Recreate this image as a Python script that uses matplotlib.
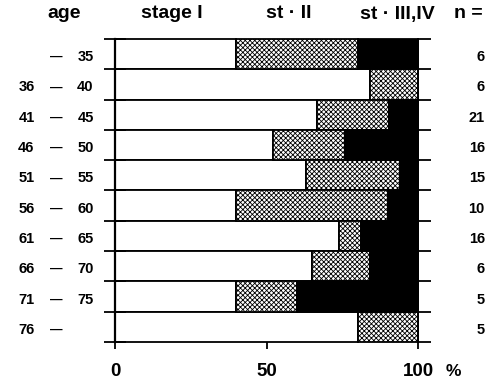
import matplotlib
matplotlib.use("Agg")
import matplotlib.pyplot as plt
import numpy as np

# Daten (Prozent je Altersgruppe)
age_lo = ["", "36", "41", "46", "51", "56", "61", "66", "71", "76"]
age_hi = ["35", "40", "45", "50", "55", "60", "65", "70", "75", ""]
stage1 = [40, 84, 66.7, 52, 63, 40, 74, 65, 40, 80]
stage2 = [40, 16, 23.8, 24, 31, 50, 7, 19, 20, 20]
stage34 = [20, 0, 9.5, 24, 6, 10, 19, 16, 40, 0]
n_cases = ["6", "6", "21", "16", "15", "10", "16", "6", "5", "5"]
headers = ["age", "stage I", "st · II", "st · III,IV", "n ="]

plt.rcParams["font.family"] = ["Liberation Sans", "DejaVu Sans"]
plt.rcParams["font.weight"] = "bold"
plt.rcParams["hatch.linewidth"] = 0.6

fig = plt.figure(figsize=(5.02, 3.85), dpi=100)
ax = fig.add_axes([0.229, 0.1117, 0.604, 0.787])

y = np.arange(len(stage1)) + 0.5
s1 = np.array(stage1)
s2 = np.array(stage2)
s3 = np.array(stage34)

kw = dict(height=1.0, edgecolor="black", linewidth=1.3, clip_on=False)
ax.barh(y, s1, left=0, color="white", **kw)
ax.barh(y, s2, left=s1, color="white", hatch="xxxxxxx", **kw)
ax.barh(y, s3, left=s1 + s2, color="black", **kw)

ax.set_xlim(0, 100)
ax.set_ylim(len(stage1), 0)

for side in ["top", "bottom"]:
    ax.spines[side].set_visible(False)
ax.spines["left"].set_linewidth(1.6)
ax.spines["right"].set_linewidth(1.3)

# Zeilengrenzen als Striche links und rechts
ax.set_yticks(np.arange(len(stage1) + 1))
ax.set_yticklabels([])
ax.tick_params(axis="y", left=True, right=False, direction="inout", length=16, width=1.3)
ax2 = ax.secondary_yaxis("right")
ax2.set_yticks(np.arange(len(stage1) + 1))
ax2.set_yticklabels([])
ax2.tick_params(direction="out", length=9, width=1.3)
ax2.spines["right"].set_linewidth(1.3)

ax.set_xticks([0, 50, 100])
ax.set_xticklabels(["0", "50", "100"], fontsize=13.5, fontweight="bold")
ax.tick_params(axis="x", direction="out", length=5, width=1.3, pad=10)
ax.annotate("%", xy=(109, 0), xycoords=("data", "axes fraction"),
            xytext=(0, -15.5), textcoords="offset points", fontsize=12.5,
            va="top", ha="left", fontweight="bold", annotation_clip=False)

# Altersgruppen links
for yi, lo, hi in zip(y, age_lo, age_hi):
    ax.text(-26.5, yi + 0.1, lo, ha="right", va="center", fontsize=10.5, fontweight="bold")
    ax.text(-19.5, yi + 0.1, "—", ha="center", va="center", fontsize=9, fontweight="bold")
    ax.text(-7, yi + 0.1, hi, ha="right", va="center", fontsize=10.5, fontweight="bold")

# n = rechts
for yi, n in zip(y, n_cases):
    ax.text(122, yi + 0.1, n, ha="right", va="center", fontsize=10.5, fontweight="bold")

# Kopfzeile
hx = [64, 172, 289, 397, 468]
for x, h in zip(hx, headers):
    fig.text(x / 502, 1 - 14 / 385, h, ha="center", va="center", fontsize=14,
             fontweight="bold")

fig.savefig("out.png", dpi=100)
